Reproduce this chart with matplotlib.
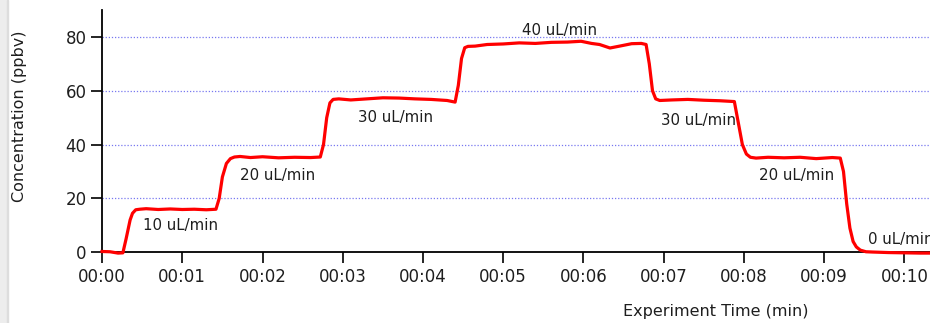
import numpy as np
from matplotlib import pyplot as plt
from matplotlib.patches import Rectangle

# trace (time in min, concentration in ppbv)
time_min = [0, 0.1, 0.2, 0.26, 0.30, 0.35, 0.38, 0.42, 0.47, 0.55, 0.7, 0.85, 1.0, 1.15, 1.3, 1.42,
            1.46, 1.50, 1.55, 1.60, 1.65, 1.72, 1.85, 2.0, 2.2, 2.4, 2.6, 2.72,
            2.76, 2.80, 2.84, 2.88, 2.95, 3.1, 3.3, 3.5, 3.7, 3.9, 4.1, 4.3, 4.40,
            4.44, 4.48, 4.52, 4.56, 4.65, 4.8, 5.0, 5.2, 5.4, 5.6, 5.8, 5.97, 6.1, 6.2, 6.33, 6.45, 6.6, 6.72, 6.78,
            6.82, 6.86, 6.90, 6.95, 7.1, 7.3, 7.5, 7.7, 7.88,
            7.93, 7.98, 8.03, 8.08, 8.15, 8.3, 8.5, 8.7, 8.9, 9.1, 9.2,
            9.24, 9.28, 9.32, 9.36, 9.40, 9.45, 9.52, 9.6, 9.8, 10.0, 10.2, 10.5]
conc_ppbv = [0.3, 0.2, -0.3, -0.2, 5, 12, 14.5, 15.8, 16.0, 16.2, 15.9, 16.1, 15.9, 16.0, 15.8, 16.0,
             20, 28, 33, 34.8, 35.4, 35.6, 35.2, 35.5, 35.1, 35.3, 35.2, 35.4,
             40, 50, 55.5, 56.8, 57.0, 56.6, 57.0, 57.4, 57.3, 57.0, 56.8, 56.4, 55.8,
             62, 72, 76, 76.5, 76.6, 77.2, 77.4, 77.8, 77.6, 78.0, 78.1, 78.4, 77.6, 77.2, 75.9, 76.6, 77.5, 77.6, 77.2,
             70, 60, 57.0, 56.4, 56.6, 56.8, 56.5, 56.3, 56.0,
             48, 40, 36.5, 35.3, 35.0, 35.3, 35.1, 35.3, 34.8, 35.2, 35.0,
             30, 18, 9, 4, 2, 0.8, 0.2, 0.1, -0.1, -0.2, -0.3, -0.3]

# flow rate labels
flow_labels = ["10 uL/min", "20 uL/min", "30 uL/min", "40 uL/min", "30 uL/min", "20 uL/min", "0 uL/min"]
label_x = [0.98, 2.19, 3.66, 5.70, 7.43, 8.66, 9.54]
label_y = [9.9, 28.7, 50.1, 82.5, 49.1, 28.7, 4.6]
label_ha = ["center", "center", "center", "center", "center", "center", "left"]

xticks = list(range(11))
xtick_labels = ["00:%02d" % m for m in xticks]
yticks = [0, 20, 40, 60, 80]

fig = plt.figure(figsize=(9.3, 3.23), dpi=100)
ax = fig.add_axes([0.1097, 0.2189, 0.906, 0.750])
ax_w = 0.906 * 930
ax_h = 0.750 * 323

for y in [20, 40, 60, 80]:
    ax.axhline(y, color="#7878f0", lw=0.9, ls=(0, (1, 1.5)), zorder=1)

ax.plot(time_min, conc_ppbv, color="#ff0000", lw=2.3, zorder=3, clip_on=False)

for txt, x, y, ha in zip(flow_labels, label_x, label_y, label_ha):
    ax.text(x, y, txt, ha=ha, va="center", fontsize=10.8, color="#1e1e1e")

ax.set_xlim(0, 10.5)
ax.set_ylim(0, 90)
ax.set_xticks(xticks)
ax.set_xticklabels(xtick_labels, fontsize=12)
ax.set_yticks(yticks)
ax.set_yticklabels([str(v) for v in yticks], fontsize=12)
ax.tick_params(axis="both", direction="out", length=8, width=1.2, color="black", pad=3,
               labelcolor="#1e1e1e")

ax.spines["top"].set_visible(False)
ax.spines["right"].set_visible(False)
ax.spines["left"].set_linewidth(1.3)
ax.spines["bottom"].set_linewidth(1.3)

ax.set_xlabel("Experiment Time (min)", fontsize=11.5, color="#1e1e1e")
ax.xaxis.set_label_coords((716 - 102) / ax_w, -(304 - 252.3) / ax_h)
ax.set_ylabel("Concentration (ppbv)", fontsize=11.5, color="#1e1e1e")
ax.yaxis.set_label_coords(-(102 - 27) / ax_w, (252.3 - 116.7) / ax_h)

# light grey strip at the left edge of the screenshot
fig.patches.append(Rectangle((0, 0), 7 / 930, 1, transform=fig.transFigure,
                             color="#ededed", zorder=0))
fig.patches.append(Rectangle((7 / 930, 0), 1 / 930, 1, transform=fig.transFigure,
                             color="#dddddd", zorder=0))

fig.savefig("out.png", dpi=100)
